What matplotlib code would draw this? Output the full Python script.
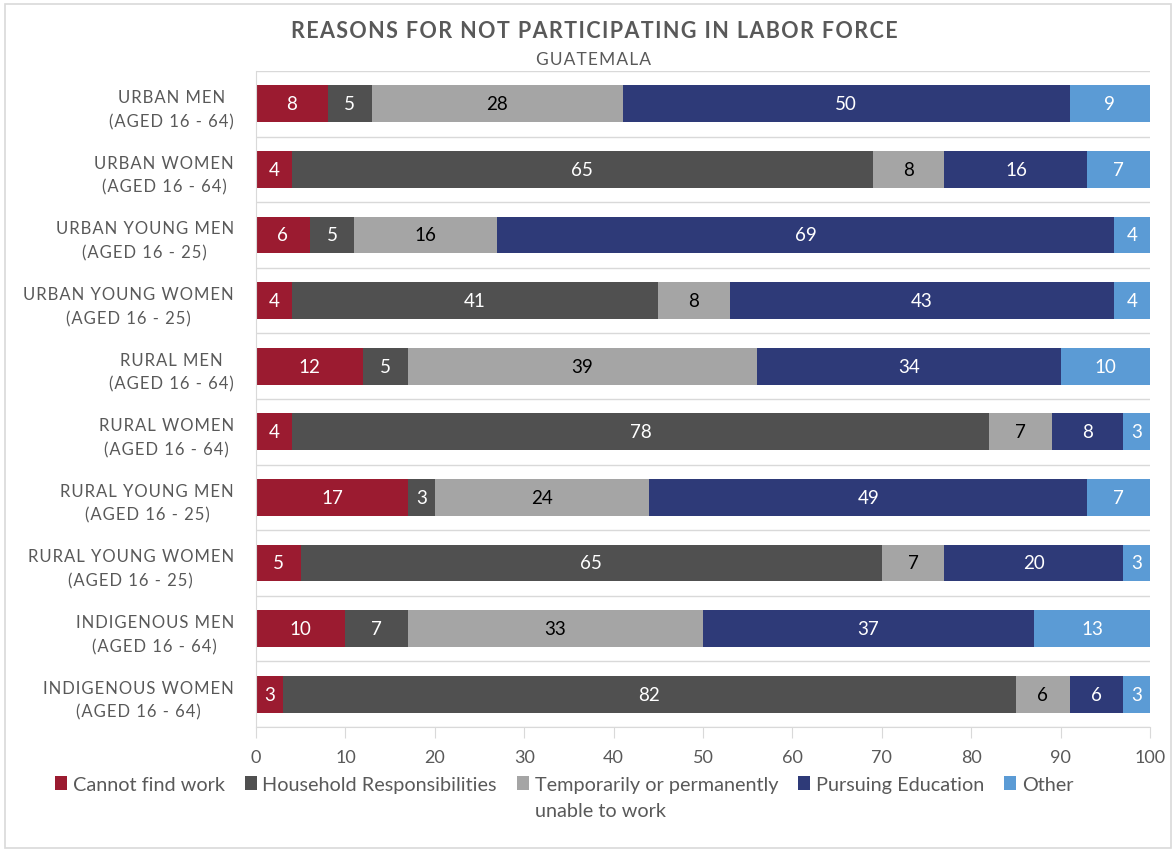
import matplotlib
matplotlib.use("Agg")
import matplotlib.pyplot as plt
from matplotlib.patches import Rectangle
import numpy as np

plt.rcParams['font.family'] = ['Lato', 'DejaVu Sans']

categories = [
    "URBAN MEN\n(AGED 16 - 64)",
    "URBAN WOMEN\n(AGED 16 - 64)",
    "URBAN YOUNG MEN\n(AGED 16 - 25)",
    "URBAN YOUNG WOMEN\n(AGED 16 - 25)",
    "RURAL MEN\n(AGED 16 - 64)",
    "RURAL WOMEN\n(AGED 16 - 64)",
    "RURAL YOUNG MEN\n(AGED 16 - 25)",
    "RURAL YOUNG WOMEN\n(AGED 16 - 25)",
    "INDIGENOUS MEN\n(AGED 16 - 64)",
    "INDIGENOUS WOMEN\n(AGED 16 - 64)",
]
cannot_find_work = [8, 4, 6, 4, 12, 4, 17, 5, 10, 3]
household = [5, 65, 5, 41, 5, 78, 3, 65, 7, 82]
unable = [28, 8, 16, 8, 39, 7, 24, 7, 33, 6]
education = [50, 16, 69, 43, 34, 8, 49, 20, 37, 6]
other = [9, 7, 4, 4, 10, 3, 7, 3, 13, 3]

series_names = ["Cannot find work", "Household Responsibilities",
                "Temporarily or permanently", "Pursuing Education", "Other"]
legend_extra_line = "unable to work"
series = [cannot_find_work, household, unable, education, other]
colors = ["#9B1B30", "#505050", "#A5A5A5", "#2E3A78", "#5B9BD5"]
text_colors = ["white", "white", "black", "white", "white"]
x_ticks = [0, 10, 20, 30, 40, 50, 60, 70, 80, 90, 100]


def spaced(s, sp="\u200a"):
    return "\n".join(sp.join(line) for line in s.split("\n"))


fig = plt.figure(figsize=(11.76, 8.54), dpi=100)
ax = fig.add_axes([256/1176, 1-728/854, (1150-256)/1176, (728-72)/854])

y = np.arange(len(categories))
left = np.zeros(len(categories))
for vals, name, c, tc in zip(series, series_names, colors, text_colors):
    vals = np.array(vals, dtype=float)
    bars = ax.barh(y, vals, left=left, height=0.56, color=c, label=name, zorder=3)
    for b, v in zip(bars, vals):
        ax.text(b.get_x() + b.get_width()/2, b.get_y() + b.get_height()/2,
                f"{int(v)}", ha="center", va="center", color=tc, fontsize=13.5, zorder=4)
    left += vals

ax.set_xlim(0, 100)
ax.set_ylim(len(categories) - 0.5, -0.5)
ax.set_yticks(y)
labels = ax.set_yticklabels([spaced(c) for c in categories], fontsize=12,
                            color="#595959", linespacing=1.6, ha="right")
for t in labels:
    t.set_multialignment("center")
ax.tick_params(axis="y", length=0, pad=16)
ax.set_xticks(x_ticks)
ax.tick_params(axis="x", length=8, color="#D9D9D9", labelcolor="#595959",
               labelsize=13, pad=8)
for b in np.arange(-0.5, len(categories), 1.0):
    ax.axhline(b, color="#D9D9D9", lw=1, zorder=1)
for s in ["top", "right"]:
    ax.spines[s].set_visible(False)
for s in ["left", "bottom"]:
    ax.spines[s].set_color("#D9D9D9")
ax.spines["left"].set_zorder(5)

fig.text(594/1176, 1-31/854, spaced("REASONS FOR NOT PARTICIPATING IN LABOR FORCE"),
         ha="center", va="center", fontsize=15.5, fontweight="bold", color="#595959")
fig.text(593/1176, 1-60/854, spaced("GUATEMALA"), ha="center", va="center",
         fontsize=12.5, color="#595959")

leg = fig.legend(loc="upper left", bbox_to_anchor=(37/1176, 1-759/854), ncol=5,
                 frameon=False, fontsize=14.3, handlelength=0.6, handleheight=0.7,
                 handletextpad=0.3, columnspacing=1.0, labelcolor="#595959")

fig.canvas.draw()
tb = leg.get_texts()[2].get_window_extent()
fig.text(tb.x0/1176, (tb.y0 - 9)/854, legend_extra_line, ha="left", va="top",
         fontsize=14.3, color="#595959")

fig.add_artist(Rectangle((5/1176, 5/854), 1-10/1176, 1-10/854, transform=fig.transFigure,
                         fill=False, edgecolor="#D9D9D9", lw=1.2))

fig.savefig("out.png", dpi=100)
